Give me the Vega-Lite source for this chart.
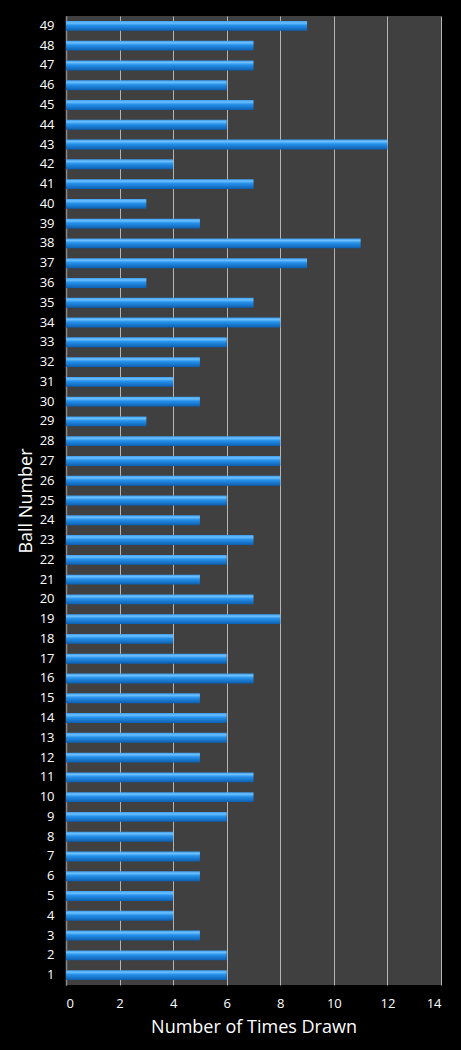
{
  "$schema": "https://vega.github.io/schema/vega-lite/v6.json",
  "width": 375,
  "height": 969,
  "autosize": "none",
  "padding": {"left": 66, "top": 16, "right": 20, "bottom": 65},
  "background": "#000000",
  "data": {
    "values": [
      {"ball": 1, "count": 6}, {"ball": 2, "count": 6}, {"ball": 3, "count": 5},
      {"ball": 4, "count": 4}, {"ball": 5, "count": 4}, {"ball": 6, "count": 5},
      {"ball": 7, "count": 5}, {"ball": 8, "count": 4}, {"ball": 9, "count": 6},
      {"ball": 10, "count": 7}, {"ball": 11, "count": 7}, {"ball": 12, "count": 5},
      {"ball": 13, "count": 6}, {"ball": 14, "count": 6}, {"ball": 15, "count": 5},
      {"ball": 16, "count": 7}, {"ball": 17, "count": 6}, {"ball": 18, "count": 4},
      {"ball": 19, "count": 8}, {"ball": 20, "count": 7}, {"ball": 21, "count": 5},
      {"ball": 22, "count": 6}, {"ball": 23, "count": 7}, {"ball": 24, "count": 5},
      {"ball": 25, "count": 6}, {"ball": 26, "count": 8}, {"ball": 27, "count": 8},
      {"ball": 28, "count": 8}, {"ball": 29, "count": 3}, {"ball": 30, "count": 5},
      {"ball": 31, "count": 4}, {"ball": 32, "count": 5}, {"ball": 33, "count": 6},
      {"ball": 34, "count": 8}, {"ball": 35, "count": 7}, {"ball": 36, "count": 3},
      {"ball": 37, "count": 9}, {"ball": 38, "count": 11}, {"ball": 39, "count": 5},
      {"ball": 40, "count": 3}, {"ball": 41, "count": 7}, {"ball": 42, "count": 4},
      {"ball": 43, "count": 12}, {"ball": 44, "count": 6}, {"ball": 45, "count": 7},
      {"ball": 46, "count": 6}, {"ball": 47, "count": 7}, {"ball": 48, "count": 7},
      {"ball": 49, "count": 9}
    ]
  },
  "mark": {
    "type": "bar",
    "color": {
      "gradient": "linear",
      "x1": 0, "y1": 0, "x2": 0, "y2": 1,
      "stops": [
        {"offset": 0, "color": "#3a9cf0"},
        {"offset": 0.2, "color": "#6cc0ff"},
        {"offset": 0.45, "color": "#2590ea"},
        {"offset": 1, "color": "#0d5fb0"}
      ]
    }
  },
  "encoding": {
    "y": {
      "field": "ball",
      "type": "ordinal",
      "sort": "descending",
      "scale": {"paddingInner": 0.5, "paddingOuter": 0.25},
      "axis": {
        "title": "Ball Number",
        "labelAngle": 0,
        "labelColor": "#ffffff",
        "labelFontSize": 13,
        "labelPadding": 12,
        "titleColor": "#ffffff",
        "titleFontSize": 18,
        "titleFontWeight": "normal",
        "titlePadding": 4,
        "ticks": false,
        "domainColor": "#8a8a8a",
        "domainWidth": 1.5
      }
    },
    "x": {
      "field": "count",
      "type": "quantitative",
      "scale": {"domain": [0, 14]},
      "axis": {
        "title": "Number of Times Drawn",
        "values": [0, 2, 4, 6, 8, 10, 12, 14],
        "labelColor": "#ffffff",
        "labelFontSize": 13,
        "labelPadding": 12,
        "titleColor": "#ffffff",
        "titleFontSize": 18,
        "titleFontWeight": "normal",
        "titlePadding": 8,
        "ticks": false,
        "domain": false,
        "grid": true,
        "gridColor": "#b4b4b4",
        "gridWidth": 1
      }
    }
  },
  "config": {
    "font": "Open Sans",
    "view": {"fill": "#404040", "stroke": null}
  }
}
